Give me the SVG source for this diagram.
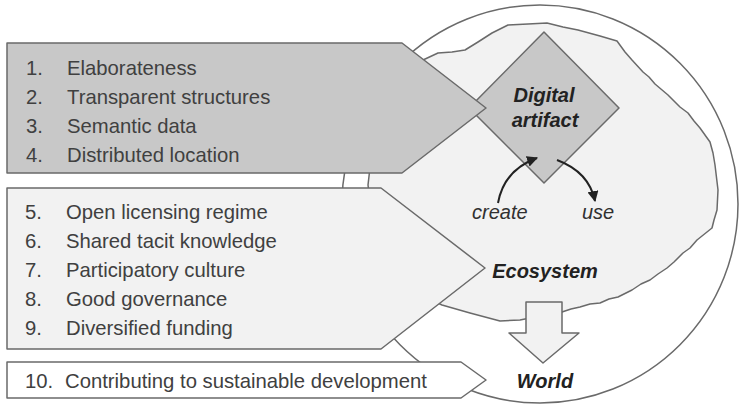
<svg xmlns="http://www.w3.org/2000/svg" width="739" height="406" viewBox="0 0 739 406">
<style>
.ln{stroke:#6a6a6a;stroke-width:1.5;stroke-linejoin:round}
.item{font-family:"Liberation Sans",Arial,sans-serif;font-size:20.3px;fill:#404040}
.lbl{font-family:"Liberation Sans",Arial,sans-serif;font-size:20px;font-style:italic;fill:#303030}
.bi{font-family:"Liberation Sans",Arial,sans-serif;font-size:20px;font-style:italic;font-weight:bold;fill:#222;text-anchor:middle}
.arr{fill:none;stroke:#222;stroke-width:2}
</style>
<defs>
<marker id="ah" viewBox="0 0 10 10" refX="9" refY="5" markerWidth="11" markerHeight="11" markerUnits="userSpaceOnUse" orient="auto">
<path d="M0,0 L10,5 L0,10 z" fill="#222"/>
</marker>
</defs>
<rect width="739" height="406" fill="#fff"/>
<g id="world">
<ellipse class="ln" cx="540" cy="204" rx="198" ry="199" fill="#fff"/>
</g>
<g id="ecosystem">
<path class="ln" fill="#f2f2f2" d="M368,185 L372,150 L395,100 L423,60 L438,53 L452,52 L465,50 L478,42 L492,33 L508,25 L528,24 L547,23 L563,27 L578,30 L600,36 L617,41 L625,52 L632,60 L643,72 L649,77 L655,84 L668,95 L680,107 L688,113 L694,121 L700,128 L710,142 L713,153 L715,165 L718,190 L717,210 L714,220 L712,228 L697,240 L690,248 L683,253 L674,262 L667,268 L658,274 L650,280 L641,284 L632,290 L618,297 L609,299 L600,303 L590,304 L580,307 L571,309 L562,312 L540,316 L520,320 L500,321 L470,313 L442,305 L400,285 L375,240 Z"/>
</g>
<g id="digital-artifact">
<polygon class="ln" fill="#c8c8c8" points="544,32 619,108 544,183 469,108"/>
</g>
<g id="connectors">
<path class="arr" d="M498,203 Q504,170 537,158" marker-end="url(#ah)"/>
<path class="arr" d="M557,160 Q589,172 595,201" marker-end="url(#ah)"/>
</g>
<g id="box-artifact">
<polygon class="ln" fill="#c8c8c8" points="7,43 402,43 486,108 402,173 7,173"/>
<text class="item" x="26" y="75">1.</text><text class="item" x="67" y="75">Elaborateness</text>
<text class="item" x="26" y="104">2.</text><text class="item" x="67" y="104">Transparent structures</text>
<text class="item" x="26" y="133">3.</text><text class="item" x="67" y="133">Semantic data</text>
<text class="item" x="26" y="162">4.</text><text class="item" x="67" y="162">Distributed location</text>
</g>
<g id="box-ecosystem">
<polygon class="ln" fill="#f2f2f2" points="7,188 381,188 485,268 381,349 7,349"/>
<text class="item" x="25" y="219">5.</text><text class="item" x="66" y="219">Open licensing regime</text>
<text class="item" x="25" y="248">6.</text><text class="item" x="66" y="248">Shared tacit knowledge</text>
<text class="item" x="25" y="277">7.</text><text class="item" x="66" y="277">Participatory culture</text>
<text class="item" x="25" y="306">8.</text><text class="item" x="66" y="306">Good governance</text>
<text class="item" x="25" y="335">9.</text><text class="item" x="66" y="335">Diversified funding</text>
</g>
<g id="box-world">
<polygon class="ln" fill="#fff" points="7,362 461,362 486,380 461,398 7,398"/>
<text class="item" x="25" y="388">10.</text><text class="item" x="65" y="388">Contributing to sustainable development</text>
</g>
<g id="impact-arrow">
<polygon class="ln" fill="#f2f2f2" points="526,302 562,302 562,333 579,333 543,363 509,333 526,333"/>
</g>
<g id="labels">
<text class="bi" x="544" y="102">Digital</text>
<text class="bi" x="545" y="127">artifact</text>
<text class="lbl" x="472" y="219">create</text>
<text class="lbl" x="582" y="219">use</text>
<text class="bi" x="545" y="278">Ecosystem</text>
<text class="bi" x="545" y="388">World</text>
</g>
</svg>
